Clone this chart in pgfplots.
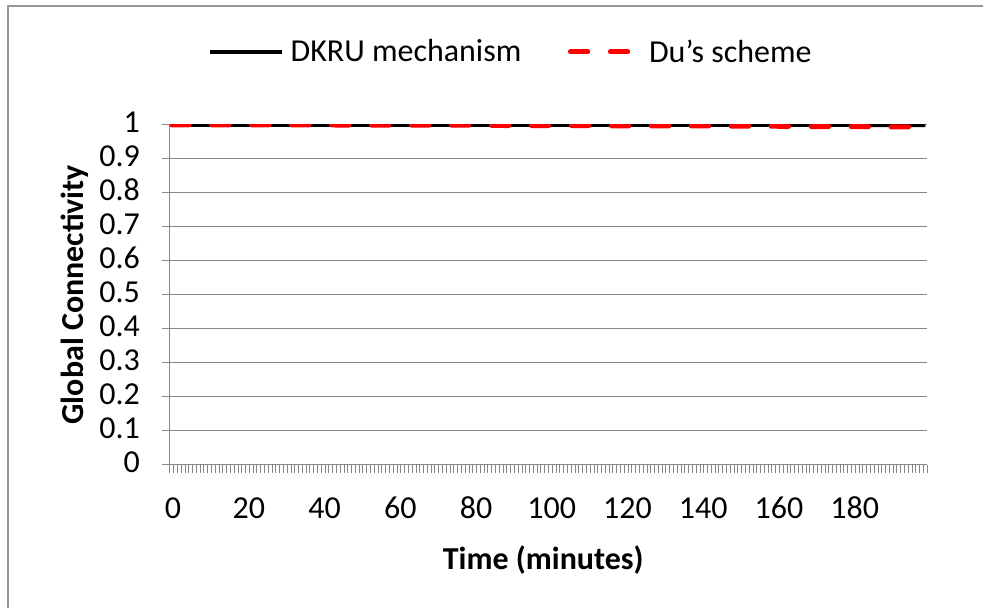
\documentclass[border=0pt]{standalone}
\usepackage{pgfplots}
\pgfplotsset{compat=1.18}
\usepackage{fontspec}
\setmainfont{Carlito}

% Connectivity over time, sampled every 10 minutes (categories 0..199)
\pgfplotstableread{
t    dkru   du
0    1.000  1.000
10   1.000  1.000
20   1.000  1.000
30   1.000  1.000
40   1.000  1.000
50   1.000  0.999
60   1.000  0.999
70   1.000  0.999
80   1.000  0.999
90   1.000  0.998
100  1.000  0.998
110  1.000  0.998
120  1.000  0.997
130  1.000  0.997
140  1.000  0.997
150  1.000  0.996
160  1.000  0.996
170  1.000  0.995
180  1.000  0.995
190  0.999  0.994
199  0.999  0.994
}\conn

\definecolor{gridgray}{RGB}{134,134,134}
\definecolor{frameg}{RGB}{150,150,150}

\begin{document}
\begin{tikzpicture}[font=\fontsize{24}{28}\selectfont]
% page extent and outer chart frame
\path (-127.5pt,-107.25pt) rectangle (610.5pt,348.75pt);
\draw[frameg, line width=1.2pt] (-121.5pt,-107.25pt) -- (-121.5pt,344.25pt) -- (610.5pt,344.25pt);
\begin{axis}[
  at={(0,0)}, anchor=south west,
  scale only axis,
  width=568.5pt, height=255pt,
  xmin=-0.5, xmax=199.5,
  ymin=0, ymax=1,
  axis x line*=bottom, axis y line*=left,
  axis line style={gridgray, line width=0.9pt, -},
  xtick={0,20,...,180},
  xticklabels={0,20,40,60,80,100,120,140,160,180},
  typeset ticklabels with strut,
  x tick label style={xshift=1pt, yshift=-11pt},
  minor xtick={-0.5,0.5,...,199.5},
  major x tick style={draw=none},
  minor x tick style={gridgray, line width=0.75pt},
  minor tick length=6pt,
  ytick={0,0.1,...,1.0},
  yticklabels={0,0.1,0.2,0.3,0.4,0.5,0.6,0.7,0.8,0.9,1},
  y tick label style={xshift=-13pt},
  major y tick style={gridgray, line width=0.75pt},
  major tick length=6pt,
  tick align=outside,
  tick label style={font=\fontsize{24}{28}\selectfont},
  ymajorgrids,
  major grid style={gridgray, line width=0.75pt},
  /pgf/number format/assume math mode=true,
  xlabel={Time (minutes)},
  ylabel={Global Connectivity},
  every axis x label/.style={at={(axis description cs:0.493,-0.282)}, anchor=center,
    font=\fontsize{24}{28}\selectfont\bfseries},
  every axis y label/.style={at={(axis description cs:-0.125,0.5)}, anchor=center, rotate=90,
    font=\fontsize{24}{28}\selectfont\bfseries},
  legend style={draw=none, fill=none, at={(axis description cs:0.0501,1.215)}, anchor=west,
    inner sep=0pt, nodes={inner sep=0pt},
    /tikz/every odd column/.append style={column sep=5pt},
    /tikz/every even column/.append style={column sep=35pt},
    font=\fontsize{24}{28}\selectfont},
  legend columns=2,
]
\addplot[black, line width=3pt,
  legend image code/.code={\draw[black, line width=3pt] (0pt,0pt) -- (54pt,0pt);}]
  table[x=t, y=dkru] {\conn};
\addlegendentry{DKRU mechanism}
\addplot[red, line width=3.75pt, line cap=round, dash pattern=on 13pt off 17pt,
  legend image code/.code={\draw[red, line width=3.75pt, line cap=round, dash pattern=on 13pt off 17pt] (1.875pt,0pt) -- (54pt,0pt);}]
  table[x=t, y=du] {\conn};
\addlegendentry{Du's scheme}
\end{axis}
\end{tikzpicture}
\end{document}
